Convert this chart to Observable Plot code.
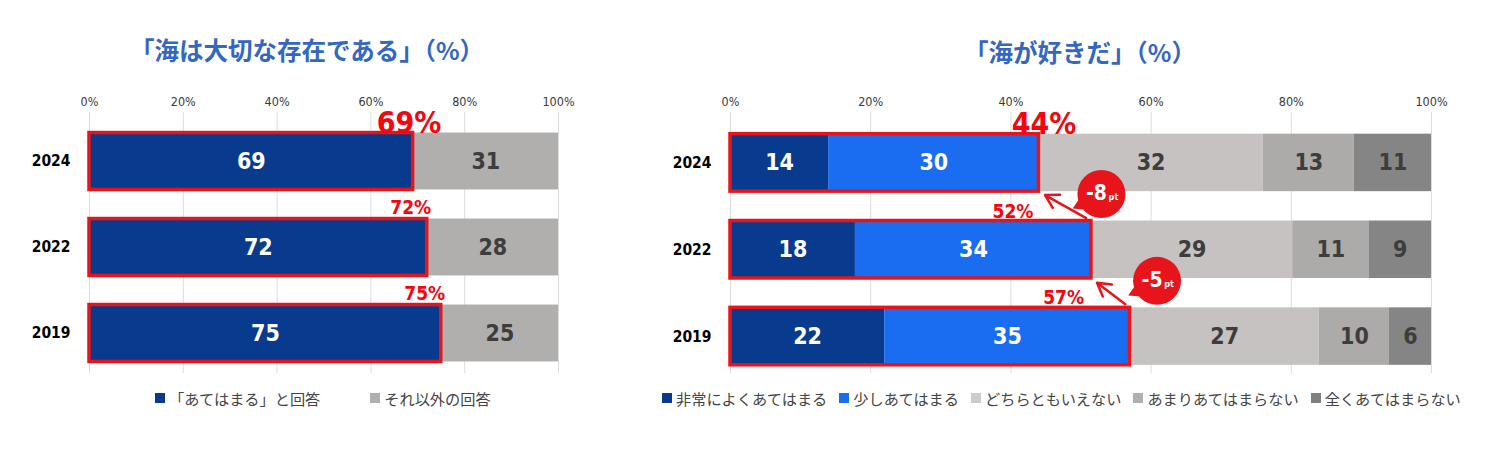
<!DOCTYPE html>
<html><head><meta charset="utf-8">
<script src="https://cdn.jsdelivr.net/npm/d3@7"></script>
<script src="https://cdn.jsdelivr.net/npm/@observablehq/plot@0.6"></script>
<style>
body{margin:0;background:#fff;width:1489px;height:456px;position:relative;overflow:hidden;font-family:"Noto Sans CJK JP",sans-serif}
.title{position:absolute;font-weight:bold;color:#3467c2;font-size:24.5px;white-space:nowrap;transform:translateX(-50%);line-height:1}
.chart{position:absolute;top:80px}
.chart svg{overflow:visible}
.legend{position:absolute;top:389px;display:flex;align-items:center;font-size:15.2px;color:#444;white-space:nowrap;line-height:18px}
.legend .item{display:flex;align-items:center}
.sw{display:inline-block;width:10px;height:10px;margin-right:4px}
.chart g[aria-label^="x-axis"] text{font-size:12.5px;fill:#3a3a3a}
.chart g[aria-label^="y-axis"] text{font-size:15.5px;font-weight:bold;fill:#000}
</style></head><body>
<div class="title" style="left:307px;top:38px">「海は大切な存在である」（%）</div>
<div class="title" style="left:1080px;top:40px">「海が好きだ」（%）</div>
<div id="left" class="chart" style="left:0px"></div>
<div id="right" class="chart" style="left:640px"></div>
<div id="legL" class="legend" style="left:155px"></div>
<div id="legR" class="legend" style="left:662px"></div>
<script>
// ---- data ----
const years = ["2024", "2022", "2019"];
const xTicks = [0, 20, 40, 60, 80, 100];

const leftCats = ["「あてはまる」と回答", "それ以外の回答"];
const leftApplies = [69, 72, 75];
const leftOther = [31, 28, 25];
const leftTotals = [69, 72, 75];

const rightCats = ["非常によくあてはまる", "少しあてはまる", "どちらともいえない", "あまりあてはまらない", "全くあてはまらない"];
const rightVery = [14, 18, 22];
const rightSomewhat = [30, 34, 35];
const rightNeutral = [32, 29, 27];
const rightNotMuch = [13, 11, 10];
const rightNotAtAll = [11, 9, 6];
const rightTotals = [44, 52, 57];
const rightDiffs = ["-8", "-5"];

// ---- styles ----
const RED = "#e8141b";
const RED_TEXT = "#f4060e";
const leftColors = ["#083a8e", "#b1aeae"];
const rightColors = ["#083a8e", "#1a6cf0", "#c6c2c2", "#adaaaa", "#858585"];
const legendLeftColors = ["#083a8e", "#b0b0b0"];
const legendRightColors = ["#083a8e", "#1a6cf0", "#cbcbcb", "#b0b0b0", "#808080"];
const COND = "'DejaVu Sans Condensed','Liberation Sans Narrow',sans-serif";
const H = 0.331;

function barChart(o) {
  const rowSums = years.map((yr, i) => d3.sum(o.series, s => s[i]));
  const table = years.flatMap((yr, i) => o.cats.map((c, j) => ({year: yr, row: i, cat: c, idx: j, value: o.series[j][i]})));
  // outline table: part inside the red frame vs the rest, stacked & normalized like the bars
  const frame = years.flatMap((yr, i) => [
    {row: i, inFrame: 1, value: o.totals[i]},
    {row: i, inFrame: 0, value: rowSums[i] - o.totals[i]}
  ]);
  const totals = years.map((yr, i) => ({year: yr, row: i, total: o.totals[i], share: o.totals[i] / rowSums[i]}));
  const N = {offset: "normalize"};
  return Plot.plot({
    width: o.width, height: 310,
    marginLeft: o.marginLeft, marginRight: o.marginRight, marginTop: 32, marginBottom: 17,
    style: {fontFamily: COND, overflow: "visible", background: "transparent"},
    x: {domain: [0, 1], axis: "top", ticks: xTicks.map(t => t / 100), tickFormat: d => Math.round(d * 100) + "%", tickSize: 0, tickPadding: 7, label: null},
    y: {domain: [-0.5, 2.5], range: o.yRange, ticks: [0, 1, 2], tickFormat: i => years[i], tickSize: 0, tickPadding: 19, label: null},
    color: {domain: o.cats, range: o.colors},
    marks: [
      Plot.gridX(xTicks.map(t => t / 100), {stroke: "#dcdcdc", strokeOpacity: 1, strokeWidth: 1}),
      Plot.rectX(table, Plot.stackX({...N, x: "value", y1: d => d.row - H, y2: d => d.row + H, fill: "cat"})),
      Plot.rectX(frame, Plot.stackX({...N, x: "value", y1: d => d.row - H, y2: d => d.row + H, fill: "none", stroke: RED, strokeOpacity: "inFrame", strokeWidth: 3.5})),
      Plot.text(table, Plot.stackX({...N, x: "value", y: "row", text: d => d.idx < o.nWhite ? d.value : "", fill: "white", fontSize: 23, fontWeight: "bold", fontFamily: COND})),
      Plot.text(table, Plot.stackX({...N, x: "value", y: "row", text: d => d.idx >= o.nWhite ? d.value : "", fill: "#3d3d3d", fontSize: 23, fontWeight: "bold", fontFamily: COND})),
      ...o.extra(totals)
    ]
  });
}

const pct = d => d.total + "%";

document.getElementById("left").append(barChart({
  cats: leftCats, colors: leftColors, series: [leftApplies, leftOther], totals: leftTotals,
  width: 600, marginLeft: 89, marginRight: 42, yRange: [38, 296], nWhite: 1,
  extra: totals => [
    Plot.text(totals.filter(d => d.row === 0), {x: "share", y: d => d.row - H, text: pct, fill: RED_TEXT, fontSize: 30, fontWeight: "bold", fontFamily: COND, dx: -4, dy: -10}),
    Plot.text(totals.filter(d => d.row > 0), {x: "share", y: d => d.row - H, text: pct, fill: RED_TEXT, fontSize: 19, fontWeight: "bold", fontFamily: COND, textAnchor: "end", dx: 4, dy: -11})
  ]
}));

const rowSumsR = years.map((yr, i) => rightVery[i] + rightSomewhat[i] + rightNeutral[i] + rightNotMuch[i] + rightNotAtAll[i]);
const changes = rightDiffs.map((lab, k) => ({from: k + 1, to: k, fromVal: rightTotals[k + 1] / rowSumsR[k + 1], toVal: rightTotals[k] / rowSumsR[k], label: lab}));
const bubbleOffsets = [[10, -27], [27, -27]];

document.getElementById("right").append(barChart({
  cats: rightCats, colors: rightColors, series: [rightVery, rightSomewhat, rightNeutral, rightNotMuch, rightNotAtAll], totals: rightTotals,
  width: 849, marginLeft: 90, marginRight: 58, yRange: [39, 299.5], nWhite: 2,
  extra: totals => [
    Plot.text(totals.filter(d => d.row === 0), {x: "share", y: d => d.row - H, text: pct, fill: RED_TEXT, fontSize: 30, fontWeight: "bold", fontFamily: COND, dx: 5, dy: -10}),
    Plot.text(totals.filter(d => d.row === 1), {x: "share", y: d => d.row - H, text: pct, fill: RED_TEXT, fontSize: 19, fontWeight: "bold", fontFamily: COND, textAnchor: "end", dx: -58, dy: -9}),
    Plot.text(totals.filter(d => d.row === 2), {x: "share", y: d => d.row - H, text: pct, fill: RED_TEXT, fontSize: 19, fontWeight: "bold", fontFamily: COND, textAnchor: "end", dx: -46, dy: -10}),
    Plot.arrow(changes, {x1: "fromVal", y1: d => d.from - H, x2: "toVal", y2: d => d.to + H, stroke: RED, strokeWidth: 2.5, headLength: 9, insetStart: 6, insetEnd: 7}),
    ...changes.flatMap((c, k) => {
      const [bx, by] = bubbleOffsets[k];
      const sel = [c];
      const pos = {x: "fromVal", y: d => d.from - H};
      return [
        Plot.dot(sel, {...pos, symbol: "triangle", r: 7, rotate: 245, fill: RED, dx: bx - 19, dy: by + 10}),
        Plot.dot(sel, {...pos, r: 24, fill: RED, dx: bx, dy: by}),
        Plot.text(sel, {...pos, text: "label", fill: "white", fontSize: 21, fontWeight: "bold", fontFamily: COND, dx: bx - 5, dy: by - 1}),
        Plot.text(sel, {...pos, text: () => "pt", fill: "white", fontSize: 9, fontWeight: "bold", fontFamily: COND, dx: bx + 12, dy: by + 3})
      ];
    })
  ]
}));

function legend(el, cats, colors, gaps) {
  const root = document.getElementById(el);
  cats.forEach((c, i) => {
    const item = document.createElement("div");
    item.className = "item";
    if (i > 0) item.style.marginLeft = gaps + "px";
    item.innerHTML = `<span class="sw" style="background:${colors[i]}"></span><span>${c}</span>`;
    root.append(item);
  });
}
legend("legL", leftCats, legendLeftColors, 50);
legend("legR", rightCats, legendRightColors, 12);
</script>
</body></html>
